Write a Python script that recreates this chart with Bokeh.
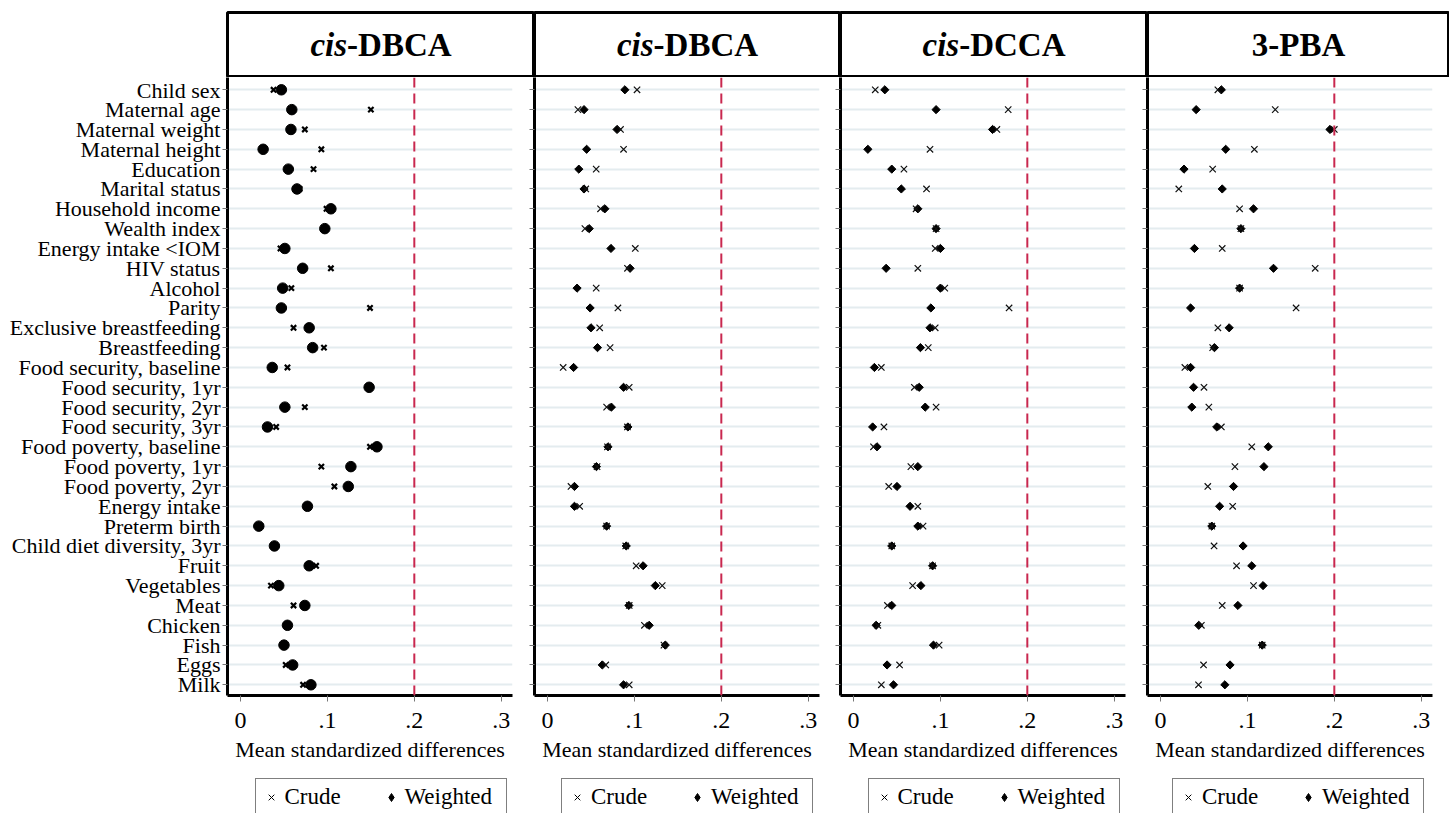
import numpy as np
from bokeh.plotting import figure
from bokeh.models import Range1d, FixedTicker, Span, Legend, LegendItem, Spacer
from bokeh.layouts import row, column
from bokeh.embed import file_html
from bokeh.resources import INLINE
from bokeh.core.properties import value

# ---------------- data ----------------
variables = [
    "Child sex", "Maternal age", "Maternal weight", "Maternal height", "Education",
    "Marital status", "Household income", "Wealth index", "Energy intake <IOM", "HIV status",
    "Alcohol", "Parity", "Exclusive breastfeeding", "Breastfeeding", "Food security, baseline",
    "Food security, 1yr", "Food security, 2yr", "Food security, 3yr", "Food poverty, baseline",
    "Food poverty, 1yr", "Food poverty, 2yr", "Energy intake", "Preterm birth",
    "Child diet diversity, 3yr", "Fruit", "Vegetables", "Meat", "Chicken", "Fish", "Eggs", "Milk",
]

title_italic = ["cis", "cis", "cis", ""]
title_rest = ["-DBCA", "-DBCA", "-DCCA", "3-PBA"]

p1_crude = [0.038, 0.150, 0.074, 0.093, 0.084, 0.068, 0.099, 0.097, 0.046, 0.104, 0.0585,
            0.149, 0.061, 0.096, 0.054, 0.148, 0.074, 0.041, 0.149, 0.093, 0.108, 0.078,
            0.023, 0.039, 0.087, 0.035, 0.061, 0.054, 0.050, 0.052, 0.072]
p1_weighted = [0.047, 0.059, 0.058, 0.026, 0.055, 0.065, 0.104, 0.097, 0.051, 0.0715, 0.0485,
               0.047, 0.079, 0.083, 0.0365, 0.148, 0.051, 0.031, 0.157, 0.127, 0.124, 0.077,
               0.021, 0.039, 0.079, 0.044, 0.074, 0.054, 0.050, 0.060, 0.081]

p2_crude = [0.103, 0.035, 0.084, 0.0875, 0.056, 0.044, 0.061, 0.043, 0.101, 0.092, 0.056,
            0.081, 0.060, 0.072, 0.018, 0.094, 0.068, 0.092, 0.069, 0.057, 0.027, 0.037,
            0.068, 0.090, 0.102, 0.132, 0.094, 0.1115, 0.134, 0.067, 0.094]
p2_weighted = [0.089, 0.042, 0.080, 0.045, 0.036, 0.042, 0.066, 0.048, 0.073, 0.095, 0.034,
               0.049, 0.050, 0.0575, 0.030, 0.0875, 0.0735, 0.0925, 0.0696, 0.0563, 0.031, 0.031,
               0.068, 0.0906, 0.110, 0.124, 0.0936, 0.117, 0.1355, 0.063, 0.0875]

p3_crude = [0.025, 0.178, 0.165, 0.088, 0.058, 0.084, 0.072, 0.095, 0.094, 0.074, 0.105,
            0.179, 0.094, 0.086, 0.032, 0.070, 0.095, 0.035, 0.023, 0.066, 0.0405, 0.074,
            0.080, 0.044, 0.091, 0.068, 0.039, 0.028, 0.0985, 0.053, 0.032]
p3_weighted = [0.036, 0.095, 0.160, 0.0165, 0.044, 0.055, 0.074, 0.095, 0.100, 0.0375, 0.100,
               0.089, 0.088, 0.077, 0.024, 0.0756, 0.0825, 0.022, 0.027, 0.074, 0.050, 0.065,
               0.074, 0.044, 0.091, 0.0775, 0.044, 0.026, 0.092, 0.0386, 0.046]

p4_crude = [0.066, 0.132, 0.200, 0.108, 0.060, 0.021, 0.091, 0.0925, 0.071, 0.178, 0.091,
            0.156, 0.066, 0.060, 0.028, 0.050, 0.0556, 0.070, 0.105, 0.0856, 0.0544, 0.083,
            0.059, 0.0616, 0.0875, 0.107, 0.071, 0.047, 0.117, 0.0495, 0.0437]
p4_weighted = [0.070, 0.041, 0.195, 0.075, 0.027, 0.071, 0.107, 0.0925, 0.039, 0.130, 0.091,
               0.0346, 0.079, 0.062, 0.0346, 0.038, 0.036, 0.0647, 0.124, 0.119, 0.084, 0.068,
               0.059, 0.095, 0.105, 0.118, 0.089, 0.044, 0.117, 0.080, 0.074]

x_ticks = [0, 0.1, 0.2, 0.3]
x_tick_labels = ["0", ".1", ".2", ".3"]
x_title = "Mean standardized differences"
threshold = 0.2
legend_labels = ["Crude", "Weighted"]

crude_series = [p1_crude, p2_crude, p3_crude, p4_crude]
weighted_series = [p1_weighted, p2_weighted, p3_weighted, p4_weighted]

# ---------------- layout constants ----------------
FONT = "Liberation Serif"
LEFT = 227
FRAME_W = 285
TOP = 12
HEAD_H = 65
MAIN_H = 691
LEG_H = 45
main_left = [LEFT, 7, 7, 7]
main_right = [15, 14, 15, 17]
head_w = [307, 306, 307, 302]
head_pad_left = [2, 0, 0, 0]

y_pos = list(range(1, len(variables) + 1))
label_map = {i + 1: v for i, v in enumerate(variables)}
blank_map = {i + 1: "" for i in range(len(variables))}

# Times-like widths (em) for centring the mixed-style header text
CW = {'c': .444, 'i': .278, 's': .389, '-': .333, 'D': .722, 'B': .667, 'C': .722,
      'A': .722, '3': .5, 'P': .611}
HFS = 33


def twidth(s):
    return sum(CW.get(ch, .55) for ch in s) * HFS


headers, mains, legends = [], [], []
for k in range(4):
    # ----- header box -----
    hw = head_w[k]
    h = figure(width=hw + head_pad_left[k], height=TOP + HEAD_H,
               x_range=Range1d(0, hw), y_range=Range1d(0, HEAD_H),
               x_axis_location=None, y_axis_location=None, toolbar_location=None,
               output_backend="svg", min_border=0, min_border_top=TOP,
               min_border_left=head_pad_left[k], outline_line_color="black",
               outline_line_width=3, background_fill_color="white", border_fill_color="white")
    h.grid.visible = False
    wi, wr = twidth(title_italic[k]), twidth(title_rest[k])
    x0 = hw / 2 - (wi + wr) / 2 + wi
    if title_italic[k]:
        h.text(x=[x0], y=[HEAD_H / 2], text=[title_italic[k]], text_align="right",
               text_baseline="middle", text_font=value(FONT), text_font_size="33px",
               text_font_style=value("bold italic"), text_color="black")
    h.text(x=[x0], y=[HEAD_H / 2], text=[title_rest[k]], text_align="left",
           text_baseline="middle", text_font=value(FONT), text_font_size="33px",
           text_font_style=value("bold"), text_color="black")
    headers.append(h)

    # ----- main panel -----
    w = main_left[k] + FRAME_W + main_right[k]
    p = figure(width=w, height=MAIN_H, x_range=Range1d(-0.015, 0.313),
               y_range=Range1d(31.54, 0.38), toolbar_location=None, output_backend="svg",
               min_border_left=main_left[k], min_border_right=main_right[k],
               min_border_top=0, min_border_bottom=73, outline_line_color=None,
               background_fill_color="white", border_fill_color="white")
    p.xgrid.visible = False
    p.ygrid.grid_line_color = "#E4ECEF"
    p.ygrid.grid_line_width = 2

    p.yaxis.ticker = FixedTicker(ticks=y_pos)
    p.yaxis.axis_line_color = "black"
    p.yaxis.axis_line_width = 3
    p.yaxis.major_tick_line_color = "#777777"
    p.yaxis.major_tick_line_width = 1
    p.yaxis.major_tick_out = 5
    p.yaxis.major_tick_in = 0
    p.yaxis.minor_tick_line_color = None
    p.yaxis.major_label_text_font = FONT
    if k == 0:
        p.yaxis.major_label_overrides = label_map
        p.yaxis.major_label_standoff = 2
        p.yaxis.major_label_text_font_size = "22px"
        p.yaxis.major_label_text_color = "black"
    else:
        p.yaxis.major_label_overrides = blank_map
        p.yaxis.major_label_standoff = 0
        p.yaxis.major_label_text_color = None

    p.xaxis.ticker = FixedTicker(ticks=x_ticks)
    p.xaxis.major_label_overrides = {t: l for t, l in zip(x_ticks, x_tick_labels)}
    p.xaxis.axis_line_color = "black"
    p.xaxis.axis_line_width = 3
    p.xaxis.major_tick_line_color = "#777777"
    p.xaxis.major_tick_out = 6
    p.xaxis.major_tick_in = 0
    p.xaxis.minor_tick_line_color = None
    p.xaxis.major_label_standoff = 11
    p.xaxis.major_label_text_font = FONT
    p.xaxis.major_label_text_font_size = "24px"
    p.xaxis.major_label_text_color = "black"
    p.xaxis.axis_label = x_title
    p.xaxis.axis_label_text_font = FONT
    p.xaxis.axis_label_text_font_size = "22px"
    p.xaxis.axis_label_text_font_style = "normal"
    p.xaxis.axis_label_text_color = "black"
    p.xaxis.axis_label_standoff = 6

    p.add_layout(Span(location=threshold, dimension="height", line_color="#C9284F",
                      line_width=2, line_dash="10 6"))

    if k == 0:
        p.scatter(weighted_series[k], y_pos, marker="circle", size=10.5,
                  fill_color="black", line_color="black")
        p.scatter(crude_series[k], y_pos, marker="x", size=7.5, line_color="black",
                  line_width=2.2)
    else:
        p.scatter(weighted_series[k], y_pos, marker="square", angle=np.pi / 4, size=5.8,
                  fill_color="black", line_color="black")
        p.scatter(crude_series[k], y_pos, marker="x", size=9, line_color="#111111",
                  line_width=1.2)
    mains.append(p)

    # ----- legend box -----
    lw = hw + head_pad_left[k]
    lf = figure(width=lw, height=LEG_H, x_range=Range1d(0, 1), y_range=Range1d(0, 1),
                x_axis_location=None, y_axis_location=None, toolbar_location=None,
                output_backend="svg", min_border=0, min_border_left=head_pad_left[k],
                outline_line_color=None,
                background_fill_color="white", border_fill_color="white")
    lf.grid.visible = False
    rc = lf.scatter(x=[np.nan], y=[np.nan], marker="x", size=8, line_color="black",
                    line_width=1)
    rw = lf.scatter(x=[np.nan], y=[np.nan], marker="diamond", size=9, fill_color="black",
                    line_color="black")
    leg = Legend(items=[LegendItem(label=legend_labels[0], renderers=[rc]),
                        LegendItem(label=legend_labels[1], renderers=[rw])],
                 location="top_center", orientation="horizontal", margin=10, padding=5,
                 spacing=0, glyph_width=20, glyph_height=20, label_standoff=4,
                 label_width=96,
                 border_line_color="black", border_line_width=1.5,
                 label_text_font=FONT, label_text_font_size="23px",
                 label_text_color="black", background_fill_alpha=0)
    lf.add_layout(leg)
    legends.append(lf)

layout = column(
    row(Spacer(width=LEFT - head_pad_left[0], height=TOP + HEAD_H), *headers),
    row(*mains),
    row(Spacer(width=LEFT - head_pad_left[0], height=LEG_H), *legends),
)

open("out.html", "w").write(file_html(layout, INLINE))
